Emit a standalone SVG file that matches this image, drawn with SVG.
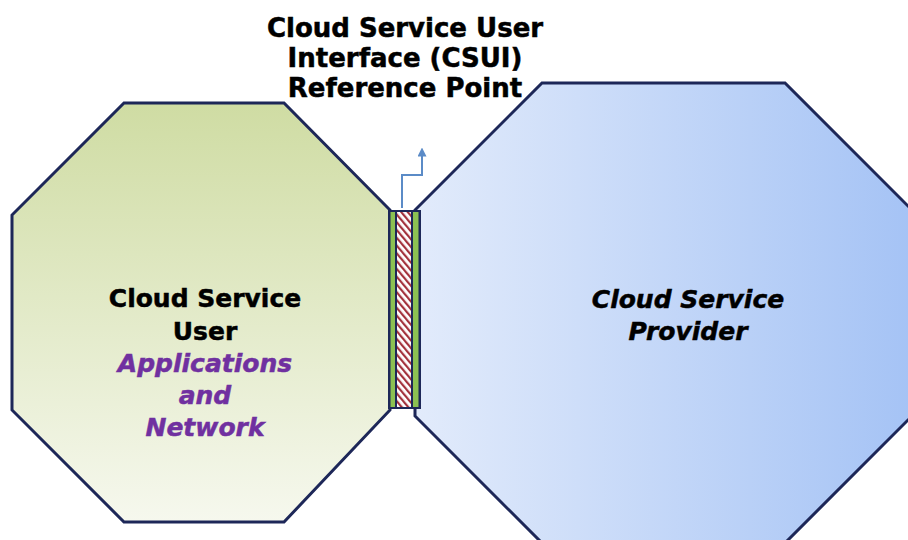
<svg xmlns="http://www.w3.org/2000/svg" width="908" height="540" viewBox="0 0 908 540">
  <defs>
    <linearGradient id="gUser" x1="0" y1="103" x2="0" y2="522" gradientUnits="userSpaceOnUse">
      <stop offset="0" stop-color="#cfdca3"/>
      <stop offset="1" stop-color="#f6f8ee"/>
    </linearGradient>
    <linearGradient id="gProv" x1="415" y1="0" x2="912" y2="0" gradientUnits="userSpaceOnUse">
      <stop offset="0" stop-color="#e2ebfb"/>
      <stop offset="1" stop-color="#a5c3f5"/>
    </linearGradient>
    <pattern id="hatch" patternUnits="userSpaceOnUse" width="5" height="5" patternTransform="rotate(-40)">
      <rect width="5" height="5" fill="#ffffff"/>
      <rect width="2.2" height="5" fill="#a3323c"/>
    </pattern>
    <marker id="arr" viewBox="0 0 10 10" refX="5" refY="5" markerWidth="4.5" markerHeight="4.5" orient="auto">
      <path d="M0,0 L10,5 L0,10 z" fill="#5b8bc7"/>
    </marker>
    <style>
      .oct { stroke: #1d2758; stroke-width: 3; stroke-linejoin: miter; }
      .t { font-family: "DejaVu Sans", Verdana, sans-serif; font-weight: bold; text-anchor: middle; stroke-width: 0.5px; }
      .title { font-size: 26px; fill: #000000; stroke: #000000; }
      .lbl { font-size: 25px; fill: #000000; stroke: #000000; }
      .it { font-style: italic; }
      .purple { fill: #7030a0; stroke: #7030a0; }
    </style>
  </defs>

  <rect width="908" height="540" fill="#ffffff"/>

  <g id="title">
    <text class="t title" x="405" y="37">Cloud Service User</text>
    <text class="t title" x="405" y="67">Interface (CSUI)</text>
    <text class="t title" x="405" y="97">Reference Point</text>
  </g>

  <g id="provider">
    <polygon class="oct" fill="url(#gProv)" points="542,83 785,83 912,210 912,416 785,543 542,543 415,416 415,210"/>
    <text class="t lbl it" x="688" y="308">Cloud Service</text>
    <text class="t lbl it" x="688" y="340">Provider</text>
  </g>

  <g id="user">
    <polygon class="oct" fill="url(#gUser)" points="124,103 284,103 390,210 390,410 284,522 124,522 12,410 12,215"/>
    <text class="t lbl" x="205" y="307">Cloud Service</text>
    <text class="t lbl" x="205" y="340">User</text>
    <text class="t lbl it purple" x="205" y="372">Applications</text>
    <text class="t lbl it purple" x="205" y="404">and</text>
    <text class="t lbl it purple" x="205" y="436">Network</text>
  </g>

  <g id="csui">
    <rect x="388" y="210" width="33" height="199" fill="#1d2758"/>
    <rect x="390.5" y="212" width="4.5" height="195" fill="#8cc152"/>
    <rect x="397" y="212" width="14" height="195" fill="url(#hatch)"/>
    <rect x="413" y="212" width="5.5" height="195" fill="#8cc152"/>
  </g>

  <g id="connectors">
    <path d="M402,208 V175 H422 V152" fill="none" stroke="#5b8bc7" stroke-width="2" marker-end="url(#arr)"/>
  </g>
</svg>
